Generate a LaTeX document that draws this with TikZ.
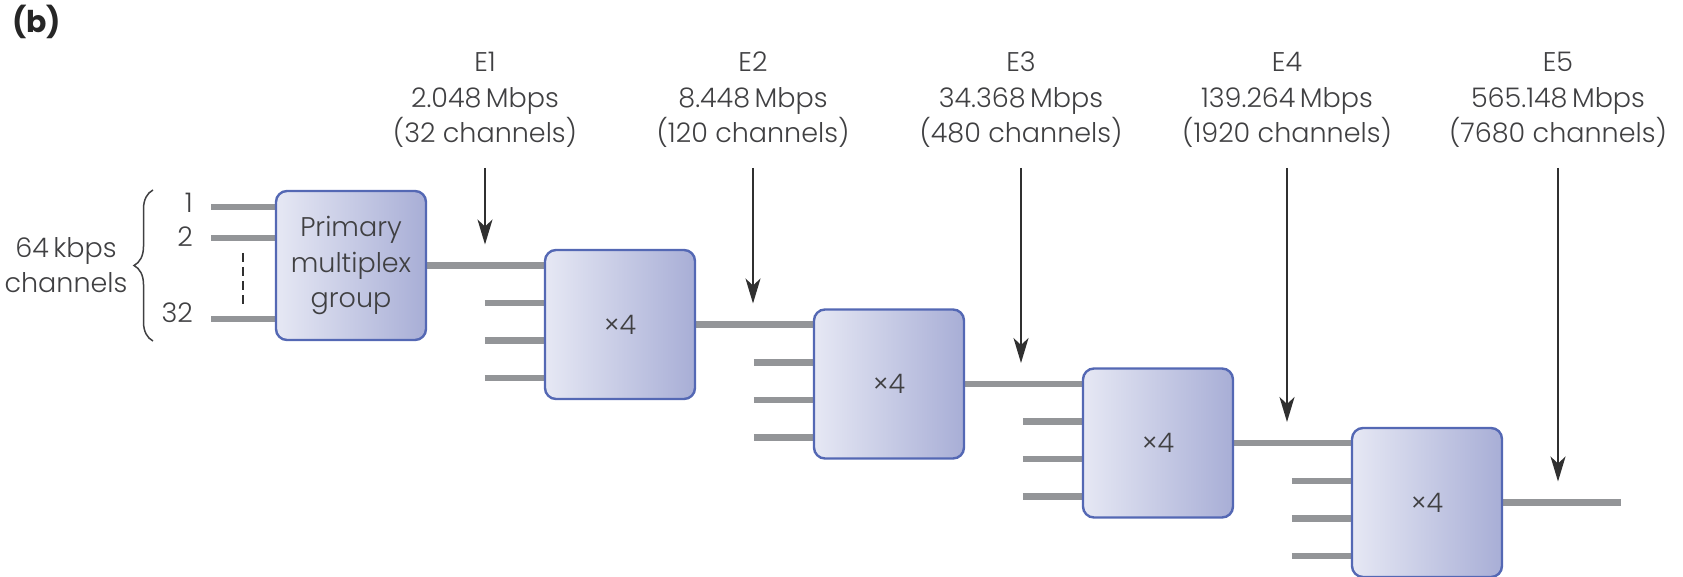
\documentclass[tikz,border=0pt]{standalone}
\usepackage{fontspec}
\IfFontExistsTF{Poppins Light}
  {\setmainfont{Poppins Light}[BoldFont={Poppins Bold}]}
  {\setmainfont{Poppins}}
\usetikzlibrary{arrows.meta,decorations.pathreplacing,calc}

\definecolor{wiregray}{RGB}{147,149,152}
\definecolor{boxedge}{RGB}{84,104,180}
\definecolor{boxlight}{RGB}{230,232,244}
\definecolor{boxdark}{RGB}{168,174,214}
\definecolor{inkgray}{RGB}{64,64,66}
\definecolor{arrowgray}{RGB}{48,48,48}

\pgfdeclarelayer{wires}
\pgfsetlayers{wires,main}

\newcommand{\lblfont}{\fontsize{27}{35.5}\selectfont}

\tikzset{
  mux/.style={draw=boxedge, line width=2.4pt, rounded corners=11pt,
    left color=boxlight, right color=boxdark,
    minimum width=150pt, minimum height=149pt, inner sep=0pt,
    text=inkgray, font=\lblfont, align=center},
  wire/.style={draw=wiregray, line width=6.5pt},
  tap/.style={draw=arrowgray, line width=1.8pt,
    -{Stealth[length=25pt,width=15pt,inset=7pt]}},
  rate/.style={text=inkgray, font=\lblfont, align=center, inner sep=0pt},
  chnum/.style={text=inkgray, font=\lblfont, anchor=base east, inner sep=0pt},
  gapline/.style={draw=arrowgray, line width=1.6pt, dash pattern=on 9pt off 5pt},
  bracket/.style={draw=inkgray, line width=1.5pt,
    decorate, decoration={brace, amplitude=19pt}}
}

\begin{document}
\begin{tikzpicture}[x=1pt,y=-1pt]
\useasboundingbox (0,0) rectangle (1683,577);

% panel tag
\node[anchor=base west, inner sep=0pt, text=black!85,
      font=\bfseries\fontsize{30}{36}\selectfont] (tag) at (12,33) {(b)};

% multiplexer stages
\node[mux] (P)  at (351,265.5) {Primary\\multiplex\\group};
\node[mux] (M1) at (620,324.5) {×4};
\node[mux] (M2) at (889,384)   {×4};
\node[mux] (M3) at (1158,443)  {×4};
\node[mux] (M4) at (1427,502.5) {×4};

% 64 kbps tributaries into the primary group
\coordinate (in1)  at (211,207);
\coordinate (in2)  at (211,238);
\coordinate (in32) at (211,319);
\node[chnum] (n1)  at (193,213) {1};
\node[chnum] (n2)  at (193,247) {2};
\node[chnum] (n32) at (193,322) {32};
\coordinate (g1) at (243,253);
\coordinate (g2) at (243,305);
\draw[gapline] (g1) -- (g2);
\coordinate (bb) at (153,341);
\coordinate (bt) at (153,190);
\draw[bracket] (bb) -- (bt);
\node[rate] (chan) at (66,265) {64\,kbps\\channels};

\begin{pgfonlayer}{wires}
  \draw[wire] (in1)  -- (in1 -| P.west);
  \draw[wire] (in2)  -- (in2 -| P.west);
  \draw[wire] (in32) -- (in32 -| P.west);
  % aggregate links between stages
  \draw[wire] (P.east)  -- (P.east -| M1.west);
  \draw[wire] (M1.east) -- (M1.east -| M2.west);
  \draw[wire] (M2.east) -- (M2.east -| M3.west);
  \draw[wire] (M3.east) -- (M3.east -| M4.west);
  \coordinate (out) at (1621,502.5);
  \draw[wire] (M4.east) -- (out);
  % three further tributaries into each x4 stage
  \foreach \m in {M1,M2,M3,M4}{
    \foreach \dy [count=\i] in {-21.5,16,53.5}{
      \coordinate (\m-t\i) at ($(\m.west)+(-59,\dy)$);
      \draw[wire] (\m-t\i) -- (\m-t\i -| \m.west);
    }
  }
\end{pgfonlayer}

% hierarchy levels
\foreach \k/\x/\tip/\txt in {
    1/485/244.5/{E1\\2.048\,Mbps\\(32 channels)},
    2/753/303.5/{E2\\8.448\,Mbps\\(120 channels)},
    3/1021/363/{E3\\34.368\,Mbps\\(480 channels)},
    4/1287/422/{E4\\139.264\,Mbps\\(1920 channels)},
    5/1558/481.5/{E5\\565.148\,Mbps\\(7680 channels)}}{
  \node[rate] (E\k) at (\x,100) {\txt};
  \coordinate (s\k) at (\x,168);
  \coordinate (e\k) at (\x,\tip);
  \draw[tap] (s\k) -- (e\k);
}
\end{tikzpicture}
\end{document}
